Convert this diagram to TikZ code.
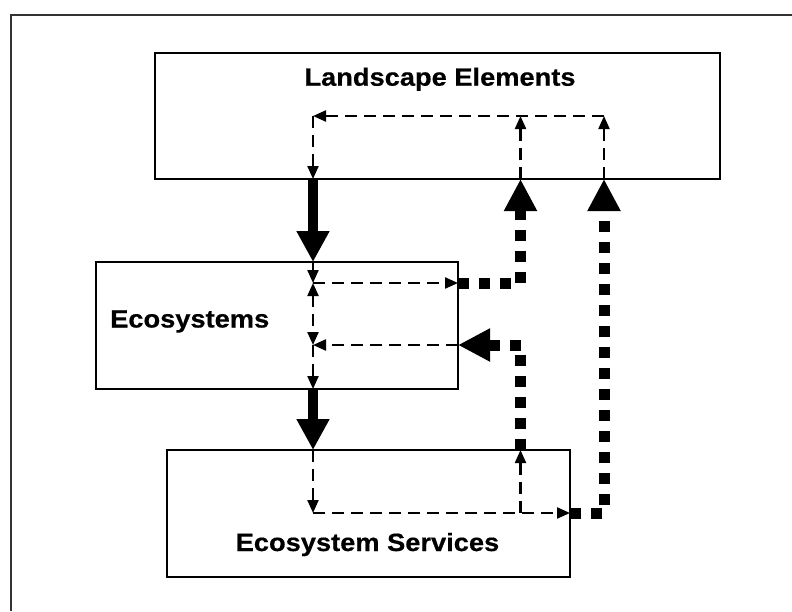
\documentclass[tikz,border=0pt]{standalone}
\usepackage{fontspec}
\newfontfamily\boxfont[FakeStretch=1.09, BoldFeatures={FakeBold=0.5}]{Liberation Sans}
\usetikzlibrary{arrows.meta}

\begin{document}
\begin{tikzpicture}[x=1pt, y=-1pt,
    >={Triangle[length=13pt, width=11pt]},
    box/.style={draw, line width=1.6pt, inner sep=0pt},
    lbl/.style={inner sep=0pt, font=\boxfont\bfseries\fontsize{25}{29}\selectfont},
    link/.style={->, line width=2.2pt, dash pattern=on 12pt off 7pt},
    flow/.style={-{Triangle[length=31pt, width=31pt]}, line width=10pt},
    feed/.style={-{Triangle[length=32pt, width=31pt]}, line width=11pt,
      dash pattern=on 11pt off 10pt, line join=miter}]
    \useasboundingbox (0,0) rectangle (792,611);
    \draw[line width=1.7pt, black!80] (10.7,611) -- (10.7,15) -- (792,15);

    % the three boxes
    \node[box, minimum width=565pt, minimum height=126pt] (land) at (437.5,116) {};
    \node[box, minimum width=362pt, minimum height=127pt] (eco) at (277,325.5) {};
    \node[box, minimum width=403pt, minimum height=127pt] (serv) at (368.5,513.5) {};
    \node[lbl, anchor=base] (landtxt) at (440,85.7) {Landscape Elements};
    \node[lbl, anchor=base west] (ecotxt) at (110,327.5) {Ecosystems};
    \node[lbl, anchor=base] (servtxt) at (367.5,551) {Ecosystem Services};

    % turning points
    \coordinate (l0) at (313,116);
    \coordinate (l1) at (520.5,116);
    \coordinate (l2) at (604,116);
    \coordinate (lb0) at (313,179);
    \coordinate (lb1) at (520.5,179);
    \coordinate (lb2) at (604,179);
    \coordinate (et) at (313,262);
    \coordinate (e1) at (313,283);
    \coordinate (e2) at (313,345);
    \coordinate (er1) at (458,283);
    \coordinate (er2) at (458,345);
    \coordinate (eb) at (313,389);
    \coordinate (c1) at (520.5,283);
    \coordinate (c2) at (520.5,345);
    \coordinate (st) at (313,450);
    \coordinate (s1) at (313,513);
    \coordinate (s2) at (520.5,513);
    \coordinate (stop) at (520.5,450);
    \coordinate (sr) at (570,513);
    \coordinate (c3) at (604,513);

    % inside landscape elements
    \draw[link] (l2) -- (l0);
    \draw[link] (l0) -- (lb0);
    \draw[link] (lb1) -- (l1);
    \draw[link] (lb2) -- (l2);

    % inside ecosystems
    \draw[link] (et) -- (e1);
    \draw[link] (e1) -- (er1);
    \draw[link, <->] (e1) -- (e2);
    \draw[link] (er2) -- (e2);
    \draw[link] (e2) -- (eb);

    % inside ecosystem services
    \draw[link] (st) -- (s1);
    \draw[link] (s1) -- (sr);
    \draw[link] (s2) -- (stop);

    % main flow down
    \draw[flow] (lb0) -- (et);
    \draw[flow] (eb) -- (st);

    % feedback loops
    \draw[feed] (er1) -- (c1) -- (lb1);
    \draw[feed] (stop) -- (c2) -- (er2);
    \draw[feed] (sr) -- (c3) -- (lb2);
\end{tikzpicture}
\end{document}
